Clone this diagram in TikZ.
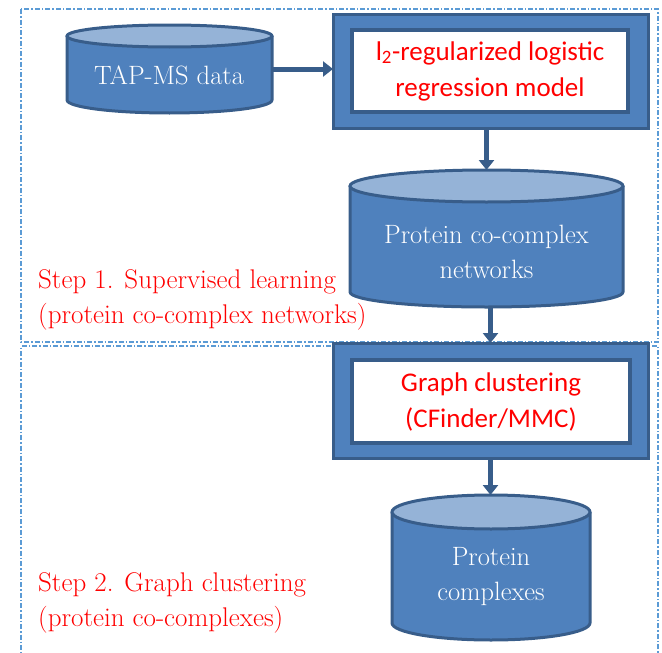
\documentclass[tikz,border=0pt]{standalone}
\usepackage{fontspec}
\newfontfamily\sansf{Carlito}
\usetikzlibrary{arrows.meta,calc}
\definecolor{bodyblue}{HTML}{4F81BD}
\definecolor{topblue}{HTML}{95B3D7}
\definecolor{edgeblue}{HTML}{385D8A}
\definecolor{dashblue}{HTML}{5B9BD5}
\definecolor{redtext}{HTML}{FF0000}
\newcommand\mycyl[6]{%
  \pgfmathsetmacro\myrx{(#2-#1)/2}%
  \pgfmathsetmacro\mycx{(#2+#1)/2}%
  \fill[bodyblue] (#1,#3) -- (#1,#5) arc[start angle=180,end angle=360,x radius=\myrx pt,y radius=#6 pt] -- (#2,#3) -- cycle;
  \draw[edgeblue,line width=3pt,line join=round] (#1,#3) -- (#1,#5) arc[start angle=180,end angle=360,x radius=\myrx pt,y radius=#6 pt] -- (#2,#3);
  \draw[edgeblue,line width=3pt,fill=topblue] (\mycx,#3) ellipse[x radius=\myrx pt,y radius=#4 pt];
}
\begin{document}
\begin{tikzpicture}[x=1pt,y=-1pt,
  dashbox/.style={draw=dashblue,line width=1.1pt,dash pattern=on 5pt off 2pt on 1.5pt off 2pt},
  anchorbox/.style={inner sep=0pt,outer sep=0pt},
  cyltext/.style={text=white,align=center,font=\fontsize{26.5}{35}\selectfont,inner sep=0pt},
  outerbox/.style={draw=edgeblue,line width=3pt,fill=bodyblue,inner sep=0pt,outer sep=0pt},
  innerbox/.style={draw=edgeblue,line width=4.5pt,fill=white,inner sep=0pt,outer sep=0pt,text=redtext,align=center,font=\sansf\fontsize{27}{36}\selectfont},
  steplbl/.style={text=redtext,align=left,font=\fontsize{27}{35}\selectfont,inner sep=0pt,anchor=west},
  arr/.style={draw=edgeblue,line width=5pt,-{Triangle[length=10pt,width=15pt]}}]
\useasboundingbox (0,0) rectangle (662,653);
% dashed regions
\draw[dashbox] (21,9) rectangle (658,342);
\draw[dashbox] (658,670) -- (658,346) -- (21,346) -- (21,670);
% step labels
\node[steplbl] (s1) at (38,300) {Step 1. Supervised learning\\(protein co-complex networks)};
\node[steplbl] (s2) at (38,603) {Step 2. Graph clustering\\(protein co-complexes)};
% cylinders
\mycyl{67}{272}{36}{11}{100}{13}
\node[anchorbox,minimum width=205pt,minimum height=88pt] (tap) at (169.5,69) {};
\node[cyltext] (taplbl) at (169,75) {TAP-MS data};
\mycyl{350}{623}{186}{16}{292}{15}
\node[anchorbox,minimum width=273pt,minimum height=137pt] (net) at (486.5,238.5) {};
\node[cyltext] (netlbl) at (486.5,252) {Protein co-complex\\networks};
\mycyl{392}{590}{512}{17}{623}{17}
\node[anchorbox,minimum width=198pt,minimum height=145pt] (cplx) at (491,567.5) {};
\node[cyltext] (cplxlbl) at (491,577) {Protein\\complexes};
% boxes
\node[outerbox,minimum width=315pt,minimum height=114pt] (m1) at (490.5,71) {};
\node[innerbox,minimum width=276pt,minimum height=82pt] (m1i) at (490,71) {l\textsubscript{2}-regularized logistic\\regression model};
\node[outerbox,minimum width=315pt,minimum height=115pt] (m2) at (490.5,400.5) {};
\node[innerbox,minimum width=278pt,minimum height=83pt] (m2i) at (491,401.5) {Graph clustering\\(CFinder/MMC)};
% arrows
\draw[arr] (tap.east) -- (m1.west |- tap.east);
\draw[arr] (m1.south -| net.north) -- (net.north);
\draw[arr] (net.south -| m2.north) -- (m2.north);
\draw[arr] (m2.south) -- (m2.south |- cplx.north);
\end{tikzpicture}
\end{document}
